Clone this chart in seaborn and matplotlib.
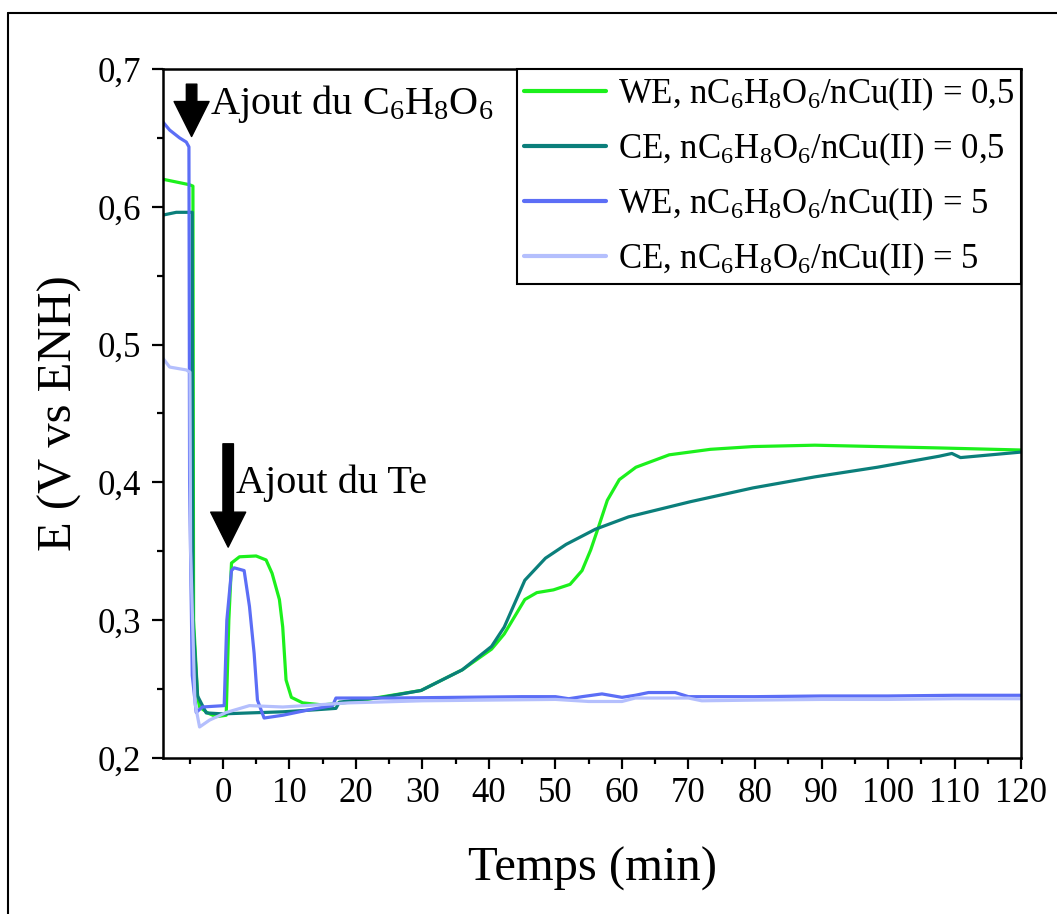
import pandas as pd
import matplotlib.pyplot as plt
import seaborn as sns
from matplotlib.lines import Line2D
from matplotlib.ticker import AutoMinorLocator

# Données (temps en min, E en V vs ENH)
t_we_05 = [-9, -7, -5, -4.5, -4.4, -3.8, -3.5, -2.3, -1, 0.5, 0.9, 1.3, 2.5, 5, 6.5, 7.4, 8.5,
           9, 9.5, 10.3, 12, 15, 17, 20, 23.5, 29.8, 36, 40.4, 42.3, 45.4, 47.2, 49.7, 52.2,
           54, 55.3, 56.5, 57.8, 59.6, 62.1, 67.1, 73.3, 79.7, 89, 98.4, 107.7, 120]
e_we_05 = [0.620, 0.618, 0.616, 0.615, 0.30, 0.245, 0.237, 0.2327, 0.230, 0.231, 0.30, 0.3415,
           0.346, 0.3466, 0.3437, 0.334, 0.315, 0.295, 0.2566, 0.244, 0.240, 0.2385, 0.2395,
           0.241, 0.244, 0.249, 0.264, 0.279, 0.290, 0.315, 0.320, 0.322, 0.326, 0.336, 0.351,
           0.368, 0.387, 0.402, 0.411, 0.420, 0.424, 0.426, 0.427, 0.426, 0.425, 0.4235]

t_ce_05 = [-9, -7, -5, -4.6, -4.5, -3.8, -2.5, 0, 4, 9, 14, 17, 17.5, 20, 24, 29.8, 36, 40.4,
           42.3, 45.4, 48.5, 51.6, 56, 61, 70.3, 79.7, 89, 98.4, 107.7, 109.6, 110.9, 120]
e_ce_05 = [0.594, 0.596, 0.596, 0.596, 0.30, 0.245, 0.2327, 0.232, 0.2327, 0.2335, 0.235,
           0.236, 0.2405, 0.242, 0.244, 0.249, 0.264, 0.281, 0.295, 0.329, 0.345, 0.355,
           0.366, 0.375, 0.386, 0.396, 0.404, 0.411, 0.419, 0.421, 0.418, 0.422]

t_we_5 = [-9, -8, -6.5, -5.5, -5.1, -5.0, -4.6, -4, -3.1, 0.2, 0.6, 1.3, 1.7, 3.2, 4, 4.7, 5.2,
          6.2, 9, 13, 16.5, 17, 25, 35, 45, 50, 52, 54, 57, 60, 62, 64, 68, 70, 80, 90, 100,
          110, 120]
e_we_5 = [0.6615, 0.6557, 0.650, 0.647, 0.6435, 0.40, 0.26, 0.233, 0.237, 0.238, 0.30, 0.336,
          0.338, 0.336, 0.31, 0.276, 0.242, 0.229, 0.231, 0.235, 0.238, 0.2435, 0.2435, 0.244,
          0.2445, 0.2445, 0.243, 0.2445, 0.2465, 0.244, 0.2455, 0.2475, 0.2475, 0.2445, 0.2445,
          0.245, 0.245, 0.2455, 0.2455]

t_ce_5 = [-9, -8, -5.5, -4.95, -4.85, -4.2, -3.5, -2, 0.5, 4, 9, 14, 19, 30, 40, 50, 55, 60,
          62, 70, 72, 80, 90, 100, 110, 120]
e_ce_5 = [0.490, 0.4837, 0.4816, 0.480, 0.35, 0.24, 0.2225, 0.2275, 0.233, 0.238, 0.237,
          0.2385, 0.240, 0.2415, 0.242, 0.2425, 0.241, 0.241, 0.2435, 0.2435, 0.2415, 0.242,
          0.2425, 0.2425, 0.243, 0.243]

sub = r"nC$_\mathregular{6}$H$_\mathregular{8}$O$_\mathregular{6}$/nCu(II)"
labels = [f"WE, {sub} = 0,5", f"CE, {sub} = 0,5", f"WE, {sub} = 5", f"CE, {sub} = 5"]
couleurs = ["#1cf01c", "#0b7f7b", "#5c6ef6", "#b4bffd"]

y_ticks = [0.2, 0.3, 0.4, 0.5, 0.6, 0.7]
y_labels = ["0,2", "0,3", "0,4", "0,5", "0,6", "0,7"]
x_ticks = list(range(0, 121, 10))

df = pd.concat([
    pd.DataFrame({"t": t, "E": e, "serie": lab})
    for t, e, lab in zip([t_we_05, t_ce_05, t_we_5, t_ce_5],
                         [e_we_05, e_ce_05, e_we_5, e_ce_5], labels)
])

sns.set_style("ticks")
plt.rcParams["font.family"] = ["Liberation Serif", "DejaVu Serif"]
plt.rcParams["mathtext.fontset"] = "custom"
plt.rcParams["mathtext.rm"] = "Liberation Serif"
plt.rcParams["mathtext.it"] = "Liberation Serif:italic"
plt.rcParams["text.color"] = "black"
plt.rcParams["axes.labelcolor"] = "black"

fig = plt.figure(figsize=(10.57, 9.14), dpi=100)
ax = fig.add_axes([0.1542, 0.1707, 0.8118, 0.7538])

sns.lineplot(data=df, x="t", y="E", hue="serie", hue_order=labels,
             palette=dict(zip(labels, couleurs)), sort=False, estimator=None,
             linewidth=2.3, ax=ax)

ax.set_xlim(-9, 120)
ax.set_ylim(0.2, 0.7)
ax.set_xticks(x_ticks, [str(v) for v in x_ticks])
ax.set_yticks(y_ticks, y_labels)
ax.xaxis.set_minor_locator(AutoMinorLocator(2))
ax.yaxis.set_minor_locator(AutoMinorLocator(2))
ax.tick_params(which="major", length=8, width=1.6, labelsize=25, color="black", labelcolor="black")
ax.tick_params(which="minor", length=4.5, width=1.6, color="black")
ax.tick_params(axis="x", pad=6)
ax.tick_params(axis="y", pad=8)
for sp in ax.spines.values():
    sp.set_linewidth(1.8)
    sp.set_color("black")

ax.set_xlabel("Temps (min)", fontsize=35, labelpad=26)
ax.set_ylabel("E (V vs ENH)", fontsize=35, labelpad=11)

# Flèches et annotations
fleche = dict(arrowstyle="simple,head_length=0.9,head_width=0.9,tail_width=0.27",
              color="black", shrinkA=0, shrinkB=0, mutation_scale=28)
ax.annotate("", xy=(-4.7, 0.651), xytext=(-4.7, 0.689), arrowprops=fleche)
ax.annotate("", xy=(0.8, 0.353), xytext=(0.8, 0.428), arrowprops=fleche)
ax.text(-2.0, 0.667, r"Ajout du C$_\mathregular{6}$H$_\mathregular{8}$O$_\mathregular{6}$",
        fontsize=29, va="baseline", ha="left")
ax.text(2.0, 0.392, "Ajout du Te", fontsize=29, va="baseline", ha="left")

sns.move_legend(ax, "upper right", bbox_to_anchor=(1, 1), title=None, frameon=True,
                fancybox=False, edgecolor="black", fontsize=25, borderaxespad=0,
                handlelength=2.35, handletextpad=0.35, labelspacing=0.5,
                borderpad=0.2, framealpha=1)
leg = ax.get_legend()
leg.get_frame().set_linewidth(1.5)
for ln in leg.get_lines():
    ln.set_linewidth(3)

# Cadre extérieur de la figure
fig.add_artist(Line2D([8 / 1057, 1], [1 - 13 / 914, 1 - 13 / 914], color="black", lw=1.5,
                      transform=fig.transFigure))
fig.add_artist(Line2D([8 / 1057, 8 / 1057], [0, 1 - 13 / 914], color="black", lw=1.5,
                      transform=fig.transFigure))

fig.savefig("out.png", dpi=100)
